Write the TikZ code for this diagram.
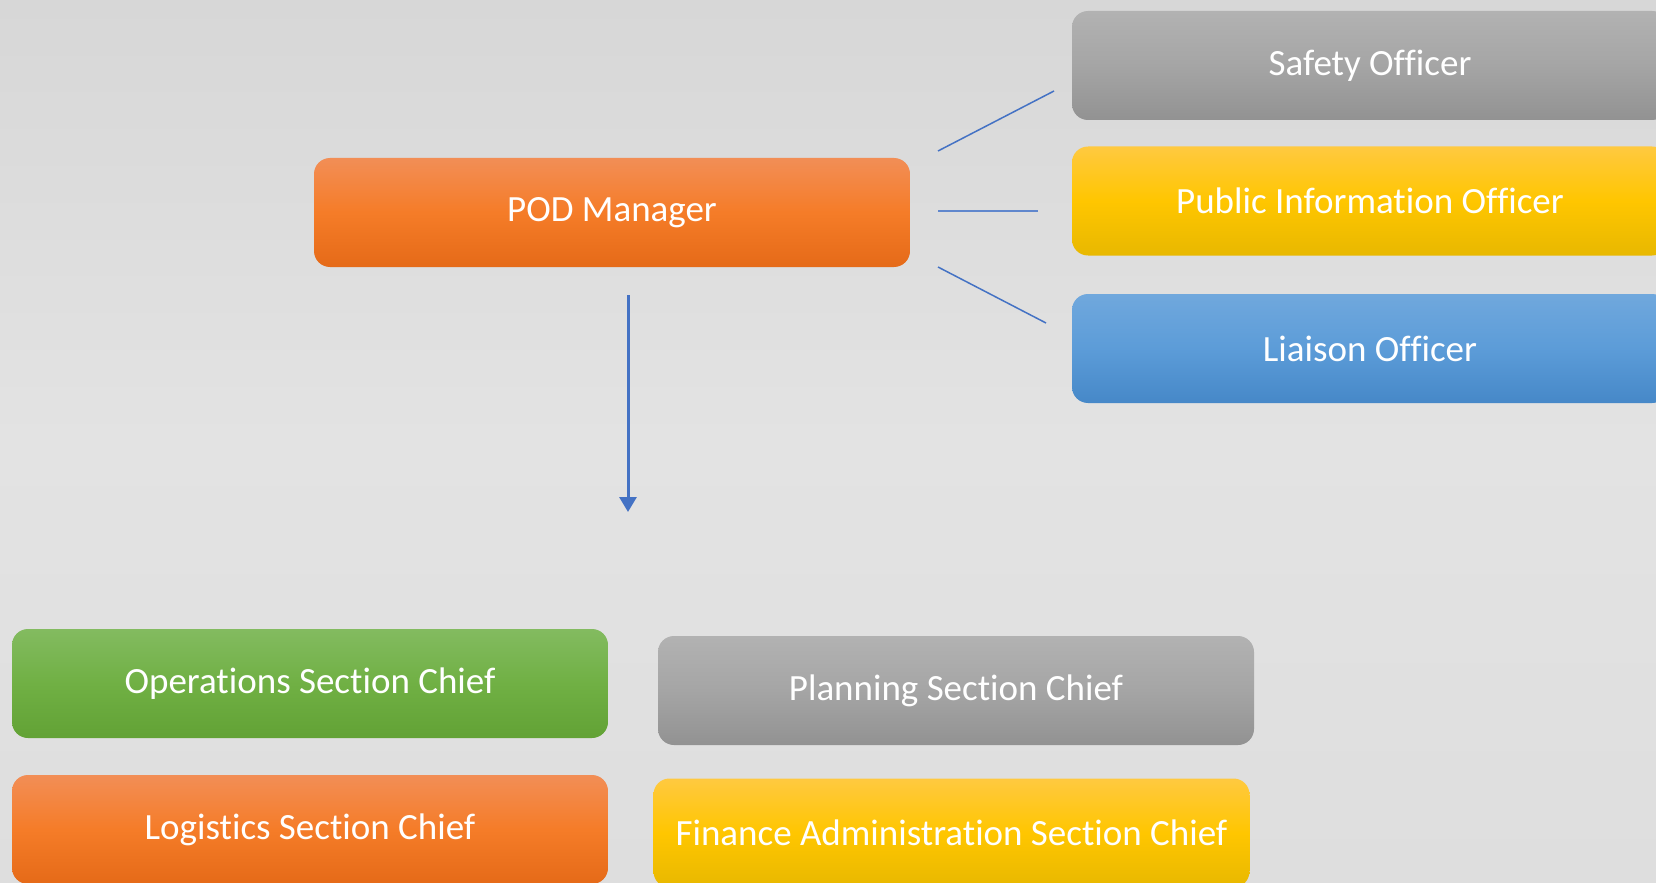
\documentclass[tikz,border=0pt]{standalone}
\usepackage{fontspec}
\setmainfont{Carlito}[Renderer=OpenType, Ligatures={NoCommon,NoRequired}, RawFeature={-calt}]
\usetikzlibrary{arrows.meta}

\definecolor{linkblue}{RGB}{68,114,196}
\definecolor{bgtop}{RGB}{215,215,215}
\definecolor{bgmid}{RGB}{227,227,227}
\definecolor{bgbot}{RGB}{222,222,222}

\tikzset{
    box/.style={rectangle, rounded corners=8pt, minimum width=298pt, minimum height=54.5pt,
                inner sep=0pt, text=white, font=\fontsize{18.5}{22}\selectfont},
    orangebox/.style={box, top color={rgb,255:red,242;green,142;blue,86},
                      bottom color={rgb,255:red,229;green,106;blue,24},
                      middle color={rgb,255:red,245;green,124;blue,40}},
    graybox/.style={box, top color={rgb,255:red,178;green,178;blue,178},
                    bottom color={rgb,255:red,146;green,146;blue,146},
                    middle color={rgb,255:red,165;green,165;blue,165}},
    yellowbox/.style={box, top color={rgb,255:red,255;green,201;blue,64},
                      bottom color={rgb,255:red,232;green,184;blue,0},
                      middle color={rgb,255:red,255;green,198;blue,0}},
    bluebox/.style={box, top color={rgb,255:red,112;green,168;blue,221},
                    bottom color={rgb,255:red,70;green,136;blue,200},
                    middle color={rgb,255:red,92;green,156;blue,216}},
    greenbox/.style={box, top color={rgb,255:red,131;green,187;blue,96},
                     bottom color={rgb,255:red,98;green,162;blue,53},
                     middle color={rgb,255:red,112;green,176;blue,68}},
    link/.style={linkblue, line width=0.75pt}
}

\begin{document}
\begin{tikzpicture}[x=0.5pt, y=-0.5pt]
    \useasboundingbox (0,0) rectangle (1656,883);
    \clip (0,0) rectangle (1656,883);

    % background
    \shade[top color=bgtop, bottom color=bgbot, middle color=bgmid] (0,0) rectangle (1656,883);

    % command staff
    \node (pod)      [orangebox] at (612,212.5)  {POD Manager};
    \node (safety)   [graybox]   at (1370,65.5)  {Safety Officer};
    \node (public)   [yellowbox] at (1370,201)   {Public Information Officer};
    \node (liaison)  [bluebox]   at (1370,348.5) {Liaison Officer};

    % general staff
    \node (ops)      [greenbox]  at (310,683.5)  {Operations Section Chief};
    \node (planning) [graybox]   at (956,690.5)  {Planning Section Chief};
    \node (logist)   [orangebox] at (310,829.5)  {Logistics Section Chief};
    \node (finance)  [yellowbox] at (951.5,833)  {Finance Administration Section Chief};

    \coordinate (s1) at (938,151);
    \coordinate (s2) at (1054,91);
    \coordinate (p1) at (938,211);
    \coordinate (p2) at (1038,211);
    \coordinate (l1) at (938,267);
    \coordinate (l2) at (1046,323);
    \coordinate (a1) at (628,295);
    \coordinate (a2) at (628,512);

    \draw[link]   (s1) --  (s2);
    \draw[link, line width=1pt, linkblue!85]   (p1) --  (p2);
    \draw[link]   (l1) --  (l2);
    \draw[link, line width=1.5pt, -{Triangle[width=8.5pt,length=7.5pt]}]   (a1) --  (a2);
\end{tikzpicture}
\end{document}
